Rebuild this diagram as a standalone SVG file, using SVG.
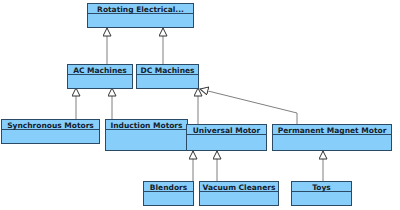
<svg xmlns="http://www.w3.org/2000/svg" width="400" height="210" viewBox="0 0 400 210">
<defs>
<style>
.box{fill:#87cefa;stroke:#2b4a66;stroke-width:1}
.sep{stroke:#2b4a66;stroke-width:1}
.lbl{font-family:"DejaVu Sans",Verdana,sans-serif;font-weight:bold;font-size:7.5px;fill:#14202c;text-anchor:middle}
.edge{stroke:#7f7f7f;stroke-width:1;fill:none}
</style>
<marker id="gen" markerWidth="10" markerHeight="10" refX="8.5" refY="4.5" orient="auto" markerUnits="userSpaceOnUse">
<path d="M0.5,0.5 L8.5,4.5 L0.5,8.5 Z" fill="#fff" stroke="#333" stroke-width="1"/>
</marker>
</defs>
<rect width="400" height="210" fill="#fff"/>
<g id="edges">
<path class="edge" d="M107,65 L107,28" marker-end="url(#gen)"/>
<path class="edge" d="M163,65 L163,28" marker-end="url(#gen)"/>
<path class="edge" d="M76,120 L76,88" marker-end="url(#gen)"/>
<path class="edge" d="M112,120 L112,88" marker-end="url(#gen)"/>
<path class="edge" d="M198,124 L198,88" marker-end="url(#gen)"/>
<path class="edge" d="M297,124 L297,113 L200,89" marker-end="url(#gen)"/>
<path class="edge" d="M193,182 L193,151" marker-end="url(#gen)"/>
<path class="edge" d="M217,182 L217,151" marker-end="url(#gen)"/>
<path class="edge" d="M323,182 L323,151" marker-end="url(#gen)"/>
</g>
<g id="rotating">
<rect class="box" x="87.5" y="3.5" width="106" height="24"/>
<line class="sep" x1="87.5" y1="13.5" x2="193.5" y2="13.5"/>
<text class="lbl" x="140.5" y="11.5">Rotating Electrical...</text>
</g>
<g id="ac">
<rect class="box" x="67.5" y="64.5" width="65" height="24"/>
<line class="sep" x1="67.5" y1="74.5" x2="132.5" y2="74.5"/>
<text class="lbl" x="100" y="72.5">AC Machines</text>
</g>
<g id="dc">
<rect class="box" x="136.5" y="64.5" width="62" height="24"/>
<line class="sep" x1="136.5" y1="74.5" x2="198.5" y2="74.5"/>
<text class="lbl" x="167.5" y="72.5">DC Machines</text>
</g>
<g id="sync">
<rect class="box" x="1.5" y="119.5" width="98" height="24"/>
<line class="sep" x1="1.5" y1="129.5" x2="99.5" y2="129.5"/>
<text class="lbl" x="50.5" y="127.5">Synchronous Motors</text>
</g>
<g id="induction">
<rect class="box" x="105.5" y="119.5" width="82" height="31"/>
<line class="sep" x1="105.5" y1="129.5" x2="187.5" y2="129.5"/>
<text class="lbl" x="146.5" y="127.5">Induction Motors</text>
</g>
<g id="universal">
<rect class="box" x="186.5" y="124.5" width="80" height="26"/>
<line class="sep" x1="186.5" y1="134.5" x2="266.5" y2="134.5"/>
<text class="lbl" x="226.5" y="132.5">Universal Motor</text>
</g>
<g id="pm">
<rect class="box" x="272.5" y="124.5" width="119" height="26"/>
<line class="sep" x1="272.5" y1="134.5" x2="391.5" y2="134.5"/>
<text class="lbl" x="332" y="132.5">Permanent Magnet Motor</text>
</g>
<g id="blendors">
<rect class="box" x="143.5" y="181.5" width="50" height="24"/>
<line class="sep" x1="143.5" y1="191.5" x2="193.5" y2="191.5"/>
<text class="lbl" x="168.5" y="189.5">Blendors</text>
</g>
<g id="vacuum">
<rect class="box" x="199.5" y="181.5" width="79" height="24"/>
<line class="sep" x1="199.5" y1="191.5" x2="278.5" y2="191.5"/>
<text class="lbl" x="239" y="189.5">Vacuum Cleaners</text>
</g>
<g id="toys">
<rect class="box" x="291.5" y="181.5" width="60" height="24"/>
<line class="sep" x1="291.5" y1="191.5" x2="351.5" y2="191.5"/>
<text class="lbl" x="321.5" y="189.5">Toys</text>
</g>
</svg>
